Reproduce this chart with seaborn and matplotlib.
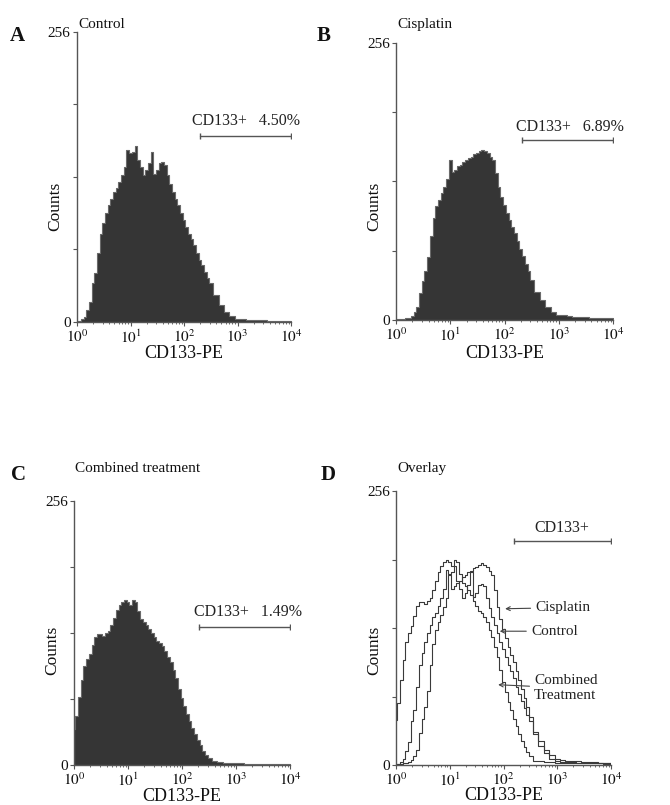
import numpy as np
import pandas as pd
import matplotlib
matplotlib.use("Agg")
import matplotlib.pyplot as plt
import seaborn as sns

sns.set_theme(style="white")
plt.rcParams['font.family'] = ['Liberation Serif', 'DejaVu Serif']
plt.rcParams['mathtext.fontset'] = 'stix'

# ---- data: channel positions (log10 of CD133-PE intensity) ----
log_channel = [0.00, 0.05, 0.10, 0.15, 0.20, 0.25, 0.30, 0.35, 0.40, 0.45,
               0.50, 0.55, 0.60, 0.65, 0.70, 0.75, 0.80, 0.85, 0.90, 0.95,
               1.00, 1.05, 1.10, 1.15, 1.20, 1.25, 1.30, 1.35, 1.40, 1.45,
               1.50, 1.55, 1.60, 1.65, 1.70, 1.75, 1.80, 1.85, 1.90, 1.95,
               2.00, 2.05, 2.10, 2.15, 2.20, 2.25, 2.30, 2.35, 2.40, 2.45,
               2.50, 2.60, 2.70, 2.80, 2.90, 3.00, 3.10, 3.20, 3.30, 3.40,
               3.50, 3.60, 3.70, 3.80, 3.90, 4.00]

counts_control = [0.5, 1, 2.4, 4.7, 10.6, 18, 34, 43, 61, 78,
                  87, 96, 103, 109, 115, 118, 124, 130, 137, 152,
                  149, 150, 155, 143, 137, 130, 134, 140, 150, 131,
                  134, 140, 141, 139, 130, 122, 115, 109, 103, 96,
                  90, 84, 78, 73, 68, 61, 55, 50, 44, 39,
                  34, 24, 15, 9, 5, 3, 2.5, 2, 2, 1.5,
                  1.5, 1.2, 1.2, 1.2, 1, 1]

counts_cisplatin = [0.5, 0.6, 0.8, 1.2, 1.5, 2, 4, 7, 12, 25,
                    36, 45, 58, 78, 94, 105, 111, 117, 123, 130,
                    148, 137, 139, 142, 143, 146, 148, 150, 151, 153,
                    154, 156, 157, 156, 154, 151, 148, 136, 123, 114,
                    106, 99, 92, 86, 80, 73, 66, 59, 52, 45,
                    37, 26, 18.5, 12, 7.7, 5, 4.2, 3.5, 3, 2.8,
                    2.5, 2.2, 2, 1.8, 1.6, 1.5]

counts_combined = [35, 48, 66, 82, 96, 103, 108, 116, 124, 127,
                   127, 125, 128, 130, 136, 143, 150, 155, 158, 160,
                   158, 155, 160, 158, 149, 142, 139, 136, 132, 128,
                   124, 120, 118, 115, 111, 105, 100, 92, 84, 74,
                   65, 57, 49, 43, 36, 30, 24, 19, 14, 10,
                   7, 3.5, 2.8, 2.4, 2, 1.6, 1.5, 1.4, 1.4, 1.3,
                   1.3, 1.3, 1.3, 1.3, 1.3, 1.3]

overlay_scale = 1.2   # overlay panel is drawn on a rescaled count axis

panel_titles = ["Control", "Cisplatin", "Combined treatment", "Overlay"]
panel_letters = ["A", "B", "C", "D"]
gate_labels = ["CD133+   4.50%", "CD133+   6.89%", "CD133+   1.49%", "CD133+"]
gate_start = [2.30, 2.32, 2.31, 2.20]
gate_level = [164, 166, 134, 209]
gate_text_x = [3.15, 3.20, 3.23, 3.09]
gate_text_y = [177, 178, 148, 221]
overlay_names = ["Cisplatin", "Control", "Combined\nTreatment"]
overlay_tip = [(2.03, 146), (1.93, 125), (1.90, 75)]
overlay_text = [(2.59, 147), (2.51, 125), (2.57, 72)]

x_tick_pos = [0, 1, 2, 3, 4]
x_tick_labels = [r"$10^{0}$", r"$10^{1}$", r"$10^{2}$", r"$10^{3}$", r"$10^{4}$"]

# ---- figure ----
W, H = 670, 805
fig = plt.figure(figsize=(W / 100, H / 100), dpi=100)
fig.patch.set_facecolor("white")

boxes = [(77, 32, 291, 322),
         (396, 43, 613, 320),
         (74, 501, 290, 765),
         (396, 491, 611, 765)]

def px_axes(left, top, right, bottom):
    return fig.add_axes([left / W, 1 - bottom / H, (right - left) / W, (bottom - top) / H])

axes = [px_axes(*b) for b in boxes]

lc = np.array(log_channel)
edges = [0.0] + list((lc[:-1] + lc[1:]) / 2) + [4.0]

fill_color = "#353535"
edge_color = "#6a6a6a"
axis_color = "#555555"

series = [counts_control, counts_cisplatin, counts_combined]
for i, ax in enumerate(axes[:3]):
    df = pd.DataFrame({"L": log_channel, "n": series[i]})
    sns.histplot(data=df, x="L", weights="n", bins=edges, element="step",
                 fill=True, color=fill_color, edgecolor=edge_color, alpha=1.0,
                 linewidth=0.8, ax=ax)

# overlay
for s in series:
    df = pd.DataFrame({"L": log_channel, "n": np.array(s, dtype=float) * overlay_scale})
    sns.histplot(data=df, x="L", weights="n", bins=edges,
                 element="step", fill=False, color="#3a3a3a", linewidth=0.8,
                 ax=axes[3])

title_baseline = [28, 28, 472, 472]
xlabel_top = [345, 345, 788, 787]
ylabel_right = [63, 382, 60, 382]
ylabel_center = [206, 206, 650, 650]

minor = [k + np.log10(m) for k in range(4) for m in range(2, 10)]
for i, ax in enumerate(axes):
    l, t, r, b = boxes[i]
    w, h = r - l, b - t
    ax.set_xlim(0, 4)
    ax.set_ylim(0, 256)
    ax.set_facecolor("white")
    for sp in ["top", "right"]:
        ax.spines[sp].set_visible(False)
    for sp in ["left", "bottom"]:
        ax.spines[sp].set_color(axis_color)
        ax.spines[sp].set_linewidth(1.0)
    ax.set_xticks(x_tick_pos)
    ax.set_xticklabels(x_tick_labels, fontsize=11)
    ax.set_xticks(minor, minor=True)
    ax.set_yticks([0, 64, 128, 192, 256])
    ax.set_yticklabels(["0", "", "", "", "256"], fontsize=11)
    ax.tick_params(axis="both", which="major", direction="out", length=3,
                   width=0.8, color=axis_color, pad=1.5, labelcolor="#111111",
                   bottom=True, left=True)
    ax.tick_params(axis="x", which="minor", direction="out", length=1.5,
                   width=0.6, color=axis_color, bottom=True)
    ax.set_xlabel("CD133-PE", fontsize=13, color="#111111", va="top")
    ax.xaxis.set_label_coords(0.5, -(xlabel_top[i] - b) / h)
    ax.set_ylabel("Counts", fontsize=12.5, color="#111111")
    ax.yaxis.set_label_coords((ylabel_right[i] - l) / w, (b - ylabel_center[i]) / h)
    fig.text(l / W + 0.0015, 1 - title_baseline[i] / H, panel_titles[i], fontsize=11,
             ha="left", va="baseline", color="#111111")
    # gate marker
    ax.plot([gate_start[i], 4.0], [gate_level[i], gate_level[i]], color="#555555",
            lw=1.0, marker="|", markersize=5, mew=1.0)
    ax.text(gate_text_x[i], gate_text_y[i], gate_labels[i], fontsize=11.5,
            ha="center", va="center", color="#222222")

for i, (name, tip, txt) in enumerate(zip(overlay_names, overlay_tip, overlay_text)):
    axes[3].annotate(name, xy=tip, xytext=txt, fontsize=11, ha="left", va="center",
                     color="#222222",
                     arrowprops=dict(arrowstyle="->", color="#444444", lw=0.8,
                                     shrinkA=1, shrinkB=0, mutation_scale=7))

letter_pos = [(17, 36), (324, 36), (19, 475), (328, 475)]
for L, (x, y) in zip(panel_letters, letter_pos):
    fig.text(x / W, 1 - y / H, L, fontsize=15, fontweight="bold", ha="center",
             va="center", color="#111111")

fig.savefig("out.png", dpi=100, facecolor="white")
